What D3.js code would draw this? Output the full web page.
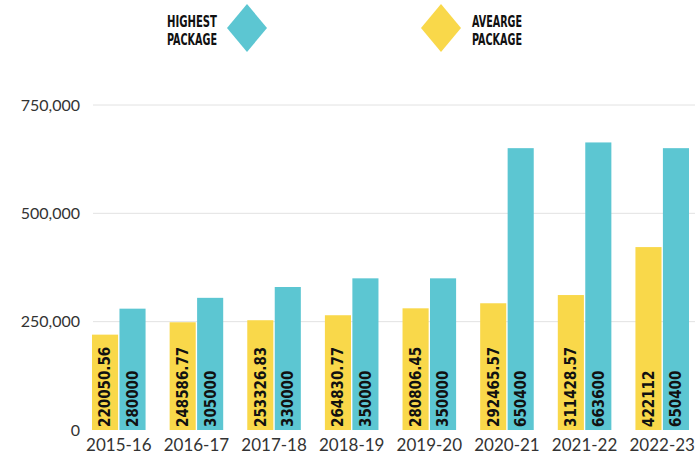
<!DOCTYPE html>
<html>
<head>
<meta charset="utf-8">
<script src="https://cdn.jsdelivr.net/npm/d3@7"></script>
<style>
  body { margin: 0; background: #fff; }
  svg { display: block; }
</style>
</head>
<body>
<svg id="chart" width="695" height="465"></svg>
<script>
// data
var years = ["2015-16", "2016-17", "2017-18", "2018-19", "2019-20", "2020-21", "2021-22", "2022-23"];
var average = [220050.56, 248586.77, 253326.83, 264830.77, 280806.45, 292465.57, 311428.57, 422112];
var highest = [280000, 305000, 330000, 350000, 350000, 650400, 663600, 650400];
var averageLabels = ["220050.56", "248586.77", "253326.83", "264830.77", "280806.45", "292465.57", "311428.57", "422112"];
var highestLabels = ["280000", "305000", "330000", "350000", "350000", "650400", "663600", "650400"];
var yTicks = [0, 250000, 500000, 750000];
var seriesKeys = ["avg", "high"];
var colors = { avg: "#f9d84a", high: "#5cc6d2" };

var svg = d3.select("svg#chart");

var rows = years.map(function (y, i) {
	return { year: y, avg: average[i], high: highest[i], avgLabel: averageLabels[i], highLabel: highestLabels[i] };
});

var x0 = d3.scaleBand().domain(years).range([92, 689]).paddingInner(0.31).paddingOuter(0);
var x1 = d3.scaleBand().domain(seriesKeys).range([0, x0.bandwidth()]).paddingInner(0.05);
var y = d3.scaleLinear().domain([0, 750000]).range([430, 105]);

// grid lines
svg.append("g")
	.selectAll("line")
	.data(yTicks.slice(1))
	.enter().append("line")
	.attr("x1", 93)
	.attr("x2", 695)
	.attr("y1", function (d) { return y(d); })
	.attr("y2", function (d) { return y(d); })
	.attr("stroke", "#e2e2e2")
	.attr("stroke-width", 1);

// y axis (labels only)
var yAxis = svg.append("g")
	.attr("transform", "translate(80,0)")
	.call(d3.axisLeft(y).tickValues(yTicks).tickSize(0).tickPadding(0).tickFormat(d3.format(",")));
yAxis.select(".domain").remove();
yAxis.selectAll("text")
	.attr("font-family", "Lato, 'Open Sans', sans-serif")
	.attr("font-size", "16px")
	.attr("fill", "#333");

// x axis (labels only)
var xAxis = svg.append("g")
	.attr("transform", "translate(0,439)")
	.call(d3.axisBottom(x0).tickSize(0).tickPadding(0));
xAxis.select(".domain").remove();
xAxis.selectAll("text")
	.attr("font-family", "Lato, 'Open Sans', sans-serif")
	.attr("font-size", "17px")
	.attr("fill", "#333");

// bars
var groups = svg.append("g")
	.selectAll("g")
	.data(rows)
	.enter().append("g")
	.attr("transform", function (d) { return "translate(" + x0(d.year) + ",0)"; });

groups.selectAll("rect")
	.data(function (d) {
		return seriesKeys.map(function (k) { return { key: k, value: d[k], label: d[k + "Label"] }; });
	})
	.enter().append("rect")
	.attr("x", function (d) { return x1(d.key); })
	.attr("width", x1.bandwidth())
	.attr("y", function (d) { return y(d.value); })
	.attr("height", function (d) { return y(0) - y(d.value); })
	.attr("fill", function (d) { return colors[d.key]; });

// rotated value labels inside bars
groups.selectAll("text")
	.data(function (d) {
		return seriesKeys.map(function (k) { return { key: k, value: d[k], label: d[k + "Label"] }; });
	})
	.enter().append("text")
	.attr("transform", function (d) {
		return "translate(" + (x1(d.key) + x1.bandwidth() / 2) + "," + (y(0) - 3) + ") rotate(-90)";
	})
	.attr("dy", "0.36em")
	.attr("text-anchor", "start")
	.attr("font-family", "'DejaVu Sans Condensed', 'DejaVu Sans', sans-serif")
	.attr("font-weight", "bold")
	.attr("font-stretch", "condensed")
	.attr("font-size", "15px")
	.attr("fill", "#111")
	.text(function (d) { return d.label; });

// legend
var legend = svg.append("g");
var legendItems = [
	{ key: "high", lines: ["HIGHEST", "PACKAGE"], cx: 247, textX: 217, anchor: "end" },
	{ key: "avg", lines: ["AVEARGE", "PACKAGE"], cx: 441, textX: 472, anchor: "start" }
];

legend.selectAll("path")
	.data(legendItems)
	.enter().append("path")
	.attr("d", function (d) {
		return "M" + d.cx + ",4 L" + (d.cx + 20) + ",28 L" + d.cx + ",52 L" + (d.cx - 20) + ",28 Z";
	})
	.attr("fill", function (d) { return colors[d.key]; });

legendItems.forEach(function (item) {
	item.lines.forEach(function (line, j) {
		legend.append("text")
			.attr("x", item.textX)
			.attr("y", 27 + j * 18)
			.attr("text-anchor", item.anchor)
			.attr("font-family", "'Liberation Sans Narrow', 'DejaVu Sans Condensed', sans-serif")
			.attr("font-weight", "bold")
			.attr("font-size", "15.5px")
			.attr("textLength", 50)
			.attr("lengthAdjust", "spacingAndGlyphs")
			.attr("fill", "#111")
			.text(line);
	});
});
</script>
</body>
</html>
